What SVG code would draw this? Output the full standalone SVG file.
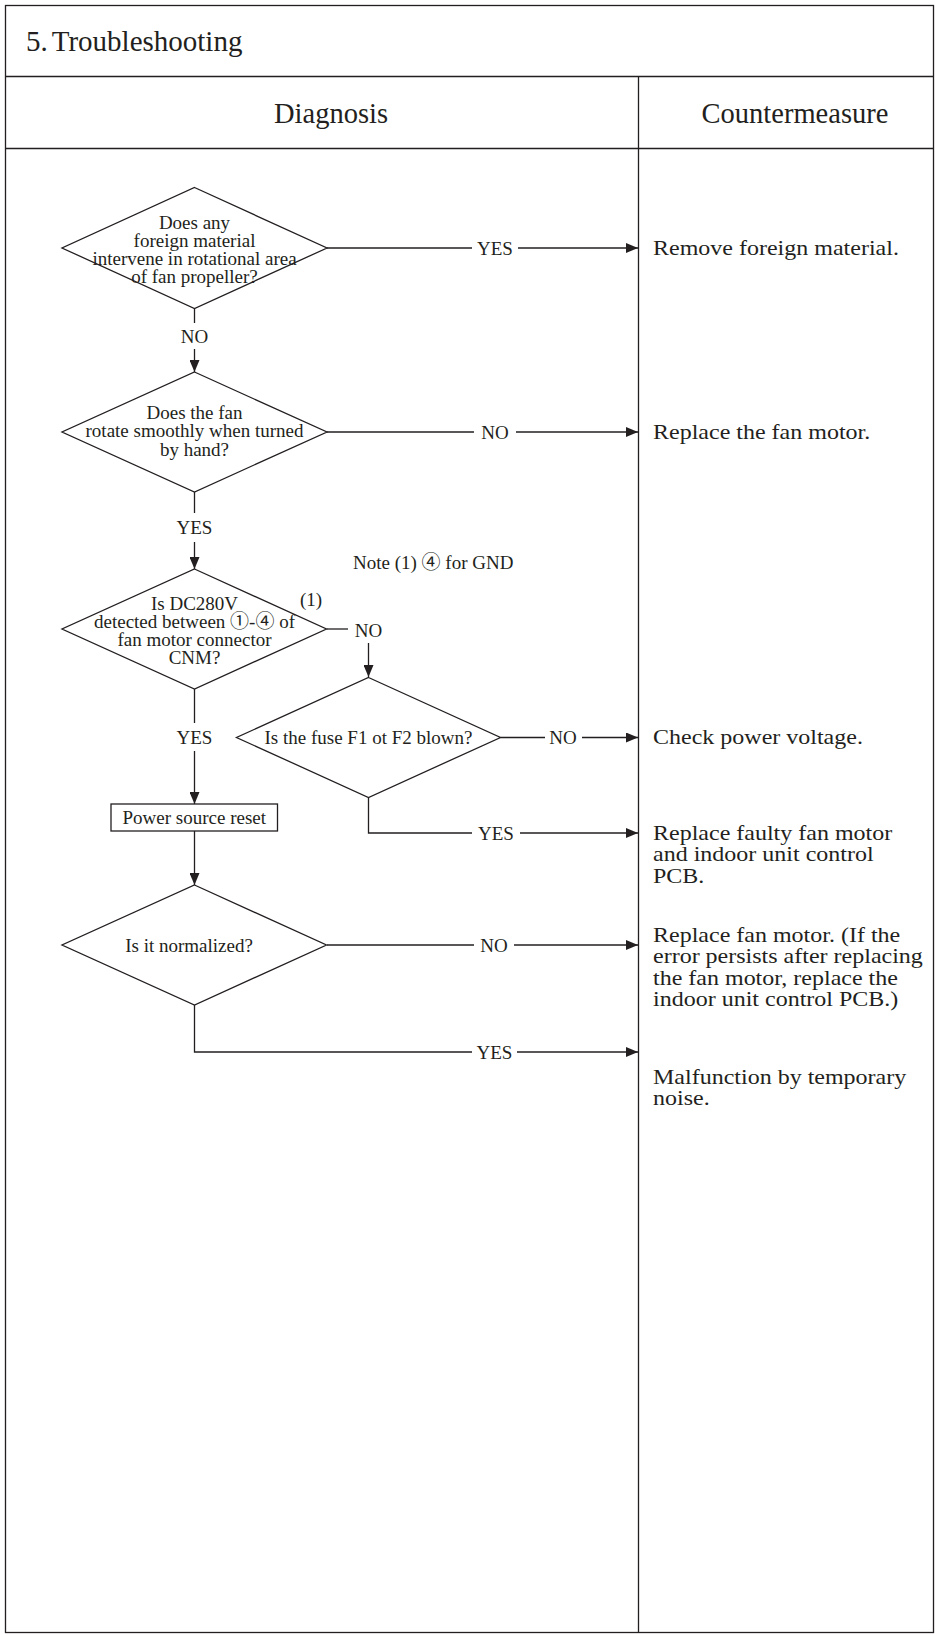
<svg xmlns="http://www.w3.org/2000/svg" width="935" height="1635" viewBox="0 0 935 1635">
<defs>
<marker id="arr" markerWidth="12" markerHeight="10" refX="12" refY="5" orient="auto" markerUnits="userSpaceOnUse"><path d="M0,0 L12,5 L0,10 z" fill="#231f20"/></marker>
<style>
.ln{fill:none;stroke:#231f20;stroke-width:1.3}
.sh{fill:#fff;stroke:#231f20;stroke-width:1.3}
.t{font-family:"Liberation Serif","Times New Roman","Noto Sans CJK JP",serif;fill:#231f20}
.f{font-size:19px;text-anchor:middle}
.r{font-size:21px}
.h{font-size:28.5px}
</style>
</defs>
<rect width="935" height="1635" fill="#fff"/>
<g id="frame" class="ln">
<rect x="5.5" y="5.5" width="928" height="1627"/>
<line x1="5.5" y1="76.5" x2="933.5" y2="76.5"/>
<line x1="5.5" y1="148.5" x2="933.5" y2="148.5"/>
<line x1="638.5" y1="76.5" x2="638.5" y2="1632.5"/>
</g>
<g id="headers" class="t h">
<text x="26" y="51" font-size="29">5.<tspan dx="4">Troubleshooting</tspan></text>
<text x="331" y="123" text-anchor="middle">Diagnosis</text>
<text x="795" y="123" text-anchor="middle">Countermeasure</text>
</g>
<g id="connectors">
<g class="ln">
<path d="M327,248 H472"/><path d="M518,248 H638" marker-end="url(#arr)"/>
<path d="M194.5,308 V323"/><path d="M194.5,349 V372" marker-end="url(#arr)"/>
<path d="M327,432 H474"/><path d="M516,432 H638" marker-end="url(#arr)"/>
<path d="M194.5,492 V513"/><path d="M194.5,542 V569" marker-end="url(#arr)"/>
<path d="M326.5,629 H348"/><path d="M368.5,643 V677" marker-end="url(#arr)"/>
<path d="M500.5,737.5 H545"/><path d="M582,737.5 H638" marker-end="url(#arr)"/>
<path d="M368.5,797.5 V833 H472"/><path d="M520,833 H638" marker-end="url(#arr)"/>
<path d="M194.5,689 V723"/><path d="M194.5,751 V804" marker-end="url(#arr)"/>
<path d="M194.5,831 V885" marker-end="url(#arr)"/>
<path d="M327,945 H474"/><path d="M514,945 H638" marker-end="url(#arr)"/>
<path d="M194.5,1005 V1052 H472"/><path d="M517,1052 H638" marker-end="url(#arr)"/>
</g>
<g class="t f">
<text x="495" y="254.5">YES</text>
<text x="194.5" y="343">NO</text>
<text x="495" y="438.5">NO</text>
<text x="194.5" y="534">YES</text>
<text x="368.5" y="637">NO</text>
<text x="563" y="744">NO</text>
<text x="496" y="839.5">YES</text>
<text x="194.5" y="744">YES</text>
<text x="494" y="951.5">NO</text>
<text x="494.5" y="1058.5">YES</text>
</g>
</g>
<g id="d1">
<polygon class="sh" points="194.5,187.5 327,248 194.5,308.5 62,248"/>
<text class="t f"><tspan x="194.5" y="228.5">Does any</tspan><tspan x="194.5" y="246.5">foreign material</tspan><tspan x="194.5" y="264.5">intervene in rotational area</tspan><tspan x="194.5" y="282.5">of fan propeller?</tspan></text>
</g>
<g id="d2">
<polygon class="sh" points="194.5,372 327,432 194.5,492 62,432"/>
<text class="t f"><tspan x="194.5" y="418.5">Does the fan</tspan><tspan x="194.5" y="437">rotate smoothly when turned</tspan><tspan x="194.5" y="455.5">by hand?</tspan></text>
</g>
<g id="note">
<text class="t" font-size="19" x="353" y="569">Note (1) ④ for GND</text>
</g>
<g id="d3">
<polygon class="sh" points="194.5,569 326.5,629 194.5,689 62,629"/>
<text class="t f"><tspan x="194.5" y="610">Is DC280V</tspan><tspan x="194.5" y="628">detected between ①-④ of</tspan><tspan x="194.5" y="646">fan motor connector</tspan><tspan x="194.5" y="664">CNM?</tspan></text>
<text class="t" font-size="19" x="300" y="606">(1)</text>
</g>
<g id="d4">
<polygon class="sh" points="368.5,677.5 500.5,737.5 368.5,797.5 236.5,737.5"/>
<text class="t f" x="368.5" y="744">Is the fuse F1 ot F2 blown?</text>
</g>
<g id="box">
<rect class="sh" x="111" y="804" width="166.5" height="27"/>
<text class="t f" x="194.3" y="823.5">Power source reset</text>
</g>
<g id="d5">
<polygon class="sh" points="194.5,885 326.5,945 194.5,1005 62,945"/>
<text class="t f" x="189" y="952">Is it normalized?</text>
</g>
<g id="c1" transform="translate(653 0) scale(1.143 1)"><text class="t r" x="0" y="255">Remove foreign material.</text></g>
<g id="c2" transform="translate(653 0) scale(1.143 1)"><text class="t r" x="0" y="439">Replace the fan motor.</text></g>
<g id="c3" transform="translate(653 0) scale(1.143 1)"><text class="t r" x="0" y="744">Check power voltage.</text></g>
<g id="c4" transform="translate(653 0) scale(1.143 1)"><text class="t r"><tspan x="0" y="840">Replace faulty fan motor</tspan><tspan x="0" y="861.5">and indoor unit control</tspan><tspan x="0" y="883">PCB.</tspan></text></g>
<g id="c5" transform="translate(653 0) scale(1.143 1)"><text class="t r"><tspan x="0" y="942">Replace fan motor. (If the</tspan><tspan x="0" y="963.5">error persists after replacing</tspan><tspan x="0" y="985">the fan motor, replace the</tspan><tspan x="0" y="1006.5">indoor unit control PCB.)</tspan></text></g>
<g id="c6" transform="translate(653 0) scale(1.143 1)"><text class="t r"><tspan x="0" y="1084">Malfunction by temporary</tspan><tspan x="0" y="1105.5">noise.</tspan></text></g>
</svg>
